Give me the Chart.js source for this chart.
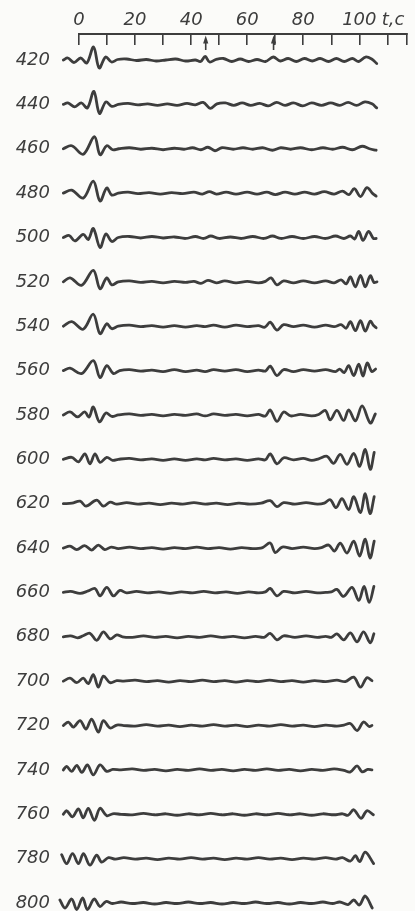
<!DOCTYPE html>
<html>
<head>
<meta charset="utf-8">
<script src="https://cdn.jsdelivr.net/npm/chart.js@4/dist/chart.umd.min.js"></script>
<style>
  html, body { margin: 0; padding: 0; background: #fbfbf9; overflow: hidden; }
  canvas { display: block; }
</style>
</head>
<body>
<canvas id="chart" width="415" height="911"></canvas>
<script>
// depth labels of the traces (left column)
const depths = [420, 440, 460, 480, 500, 520, 540, 560, 580, 600,
                620, 640, 660, 680, 700, 720, 740, 760, 780, 800];
// time axis, s
const xTicks = [0, 10, 20, 30, 40, 50, 60, 70, 80, 90, 100, 110, 112, 117];
const xLabelTicks = [0, 20, 40, 60, 80, 100];
const unitTick = 112;
const unitLabel = "t,с";
const arrowTimes = [45.2, 69.4];

// traces: [time s, deflection]
const tr420 = [[-5.6,0],[-4,2],[-1.8,-2.5],[0.6,2],[2.8,-3],[5.2,13],[7.2,-8],[9.5,3],[11.6,-2],[13.8,0.5],[17,1],[20.5,-0.5],[24,0.5],[27.5,-1],[31,0],[34.5,1],[38,-1],[41.5,0],[43.4,-1.5],[45,3.5],[46.6,-2],[48.8,0.5],[51.5,1.5],[54.5,-1.5],[57.5,1],[60.5,-1.5],[63.5,0.5],[66.5,-1.5],[69.3,3],[71.8,-1],[74.6,1.5],[77.5,-1.5],[80.4,1.5],[83.2,-1],[86,1.5],[89,-1.5],[91.8,1.5],[94.6,-1.5],[97.5,1.5],[99.8,-1.5],[102.2,3],[104.4,1],[106.2,-3.5]];
const tr440 = [[-5.6,0],[-4,1.5],[-1.5,-2.5],[0.8,1.5],[3,-3.5],[5.3,13],[7.3,-9],[9.6,2.5],[11.7,-2],[14,0],[17.5,1],[21,-0.5],[24.5,0.5],[28,-1],[31.5,0.5],[35,-1],[38.5,1],[41.5,-0.5],[44.3,2],[46.8,-4],[49.2,0.5],[52.2,1.5],[55.2,-1],[58.2,1.5],[61.2,-1],[64.5,1],[67.5,-1.5],[70.5,2],[73.5,-1],[76.5,1.5],[79.8,-1.5],[83,1.5],[86.5,-1],[89.8,1.5],[93,-1],[96,2],[99,-1],[102,2.5],[104.5,0.5],[106.2,-3.5]];
const tr460 = [[-5.6,0],[-2.6,3],[1.5,-5.5],[5.5,12],[7.5,-6],[9.9,3],[12,-1],[14.2,0],[18,1],[22,-0.5],[26,0.5],[30,-1],[34,0.5],[37.5,-0.5],[40.5,1],[43.5,-1],[46,1.5],[48.5,-2],[51,1],[55,-0.5],[58.5,1],[62,-0.5],[65.5,1],[69,-1.5],[72,1],[75.5,-0.5],[79,1],[83,-1],[87,1],[90.5,-0.5],[94,1.5],[97.5,-1],[101,2.5],[103.6,0],[106,-1.5]];
const tr480 = [[-5.6,0],[-2.6,3],[1.5,-5],[5.1,12],[7.5,-8],[9.9,5],[11.7,-2],[14,0],[17.5,1],[21,-0.5],[25,0.5],[29,-1],[33,0.5],[37,-0.5],[41,1],[44,-1],[46.5,1.5],[49,-1],[52.5,1],[56,-1],[60,1],[63.5,-1],[67,1],[70,-1.5],[73.5,1],[77,-1],[80.5,1],[84,-1],[87.5,1.5],[91,-1],[94,2],[96.3,-1.5],[98.2,4.5],[100.4,-3.5],[102.7,5.5],[104.8,-0.5],[106,-3]];
const tr500 = [[-5.6,0],[-3.5,2],[-1.5,-3.5],[1.5,3],[3.3,-2],[5.1,9],[7.5,-10],[9.6,3.5],[11.7,-4],[14,0],[18,1],[22,-0.5],[26,1],[30,-0.5],[34,0.5],[38,-1],[41.5,1],[44.5,-1],[47,1.5],[50,-1],[54,0.5],[58,-1],[62,1],[66,-1],[69,1.5],[72,-1],[76,1],[80,-1],[84,1],[88,-1],[91.5,1.5],[94.5,-1],[96.8,1.5],[98.3,-1.5],[99.8,6],[101.3,-3],[103.3,6],[105,-1],[106,-1]];
const tr520 = [[-5.6,0],[-3.2,4],[0.9,-3.5],[5.1,11.5],[7.5,-7],[9.9,4],[11.7,-3],[14,0],[18,1],[22,-0.5],[26,0.5],[30,-1],[34,0.5],[38,-0.5],[41,0.5],[43.5,-1.5],[46,1.5],[49,-1],[52,1],[56,-1],[60,0.5],[64,-1],[66.5,0.5],[68.5,4],[70.6,-3],[73,1],[76.5,-1],[80,1],[84,-1],[88,1],[91,-1],[93.5,2],[95.3,-2],[96.8,5],[98.6,-5],[100.4,6.5],[102.1,-5],[103.9,6],[105.2,-0.5],[106.3,0]];
const tr540 = [[-5.6,0],[-2.6,4.5],[1.5,-3],[5.1,12],[7.5,-7.5],[9.9,2.5],[11.7,-2.5],[14,0],[18,1],[22,-0.5],[26,0.5],[30,-1],[34,0.5],[38,-1],[42,0.5],[45,-0.5],[48,1],[52,-1],[56,1],[60,-0.5],[64,0.5],[66.3,-1],[68.2,4],[70.6,-4],[73,1.5],[76.5,-0.5],[80,1],[84,-1],[88,1],[91,-0.5],[93.5,1.5],[95.3,-2],[96.8,4.5],[98.6,-4.5],[100.4,5.5],[102.1,-5],[103.9,5],[105,1],[106,-1.5]];
const tr560 = [[-5.6,0],[-3.2,2.5],[0.9,-3],[5.1,10],[7.5,-7],[9.9,5],[12.3,-3],[14.5,0],[18,1],[22,-0.5],[26,0.5],[30,-1],[34,1],[38,-1],[42,0.5],[45,-1],[48,1],[52,-0.5],[56,1],[60,-1],[64,0.5],[66.5,-0.5],[68.2,4.5],[70.6,-5],[73,1],[76.5,-1],[80,1],[84,-0.5],[88,1],[91.5,-1],[93,1.5],[94.6,-2],[96.2,5],[98,-5],[99.8,6.5],[101.3,-5.5],[102.8,7.5],[104.5,-1],[105.8,1.5]];
const tr580 = [[-5.6,0],[-3.2,3],[-0.5,-2],[2,3],[3.6,-2],[5.1,8],[7.3,-7],[9.6,2],[11.7,-1.5],[14,0],[18,1],[22,-0.5],[26,0.5],[30,-1],[34,0.5],[38,-0.5],[42,1],[45,-1],[48,1],[52,-0.5],[56,0.5],[60,-1],[64,0.5],[66.5,-1],[68.2,5],[70.6,-6.5],[73,3],[75.5,-1],[79,0.5],[83,-1],[85.5,0.5],[87.9,4.5],[89.6,-5],[92,4.5],[94.4,-5.5],[96.2,5],[98.6,-6],[101,9],[103.9,-8],[105.7,1]];
const tr600 = [[-5.6,0],[-2.6,2],[-0.2,-2.5],[2.1,5.5],[3.9,-4.5],[5.7,5.5],[7.5,-3],[9.9,2],[12,-1],[14,0],[18,1],[22,-0.5],[26,0.5],[30,-1],[34,0.5],[38,-1],[42,0.5],[45,-0.5],[48,1],[52,-0.5],[56,0.5],[60,-1],[64,0.5],[66.5,-0.5],[68.2,5.5],[70.6,-4.5],[73,1.5],[76.5,-0.5],[80,1],[83,-1],[85.5,0.5],[88.5,3],[90.8,-4],[93.2,5],[95.6,-5],[98,6],[100.1,-7],[102.1,10],[103.9,-10],[105.3,7]];
const tr620 = [[-5.6,0],[-2.5,0.5],[0.4,2.5],[2.5,-2.5],[6.3,3.5],[8.7,-2.5],[11.1,1.5],[13.5,-0.5],[17,1],[21,-0.5],[25,0.5],[29,-1],[33,0.5],[37,-0.5],[41,1],[45,-0.5],[49,0.5],[53,-1],[57,0.5],[61,-0.5],[65,0.5],[68.2,3],[70.6,-3],[73,1],[77,-0.5],[81,1],[85,-0.5],[87.5,0.5],[89.6,4],[91.7,-4],[93.8,5],[96.2,-6],[98,7],[100.4,-9],[102.1,10],[103.8,-10],[105.3,7]];
const tr640 = [[-5.6,0],[-3.2,2],[-0.8,-1.5],[2,2.5],[4.5,-2],[6.9,3],[9.2,-1.5],[11.5,1],[14,-0.5],[18,1],[22,-0.5],[26,0.5],[30,-1],[34,0.5],[38,-0.5],[42,1],[46,-0.5],[50,0.5],[54,-1],[58,0.5],[62,-0.5],[65.5,0.5],[68.2,5],[70,-4.5],[72.5,1],[76,-0.5],[80,1],[84,-0.5],[86.5,0.5],[89.1,3],[91.1,-3],[93.2,5],[95.6,-5],[98,7],[100.1,-8],[102.1,9],[103.8,-10],[105.3,7]];
const tr660 = [[-5.6,0],[-3,1],[0.4,-1],[3.3,1.5],[5.7,4],[7.5,-3.5],[9.9,5],[12.3,-3.5],[14.6,2],[17,-0.5],[20.5,1],[24.5,-0.5],[28.5,0.5],[32.5,-1],[36.5,0.5],[40.5,-0.5],[44.5,1],[48.5,-0.5],[52.5,0.5],[56.5,-1],[60.5,0.5],[64,-0.5],[66.5,0.5],[68.2,4],[70.6,-3.5],[73,1],[77,-0.5],[81,1],[85,-0.5],[88,0],[90,0.5],[92,3],[94.4,-4],[97.4,5],[99.8,-8],[101.7,6],[103.5,-10],[105.2,6]];
const tr680 = [[-5.6,0],[-3,1],[-0.5,-1],[1.5,1],[3.9,3.5],[6.3,-3.5],[8.7,5],[11.1,-2],[13.5,2],[15.5,0],[19,-0.5],[23,1],[27,-0.5],[31,0.5],[35,-1],[39,0.5],[43,-0.5],[47,1],[51,-0.5],[55,0.5],[59,-1],[63,0.5],[66,-0.5],[68.2,3.5],[70.6,-3],[73,1],[77,-0.5],[81,1],[85,-0.5],[88,0.5],[90,-0.5],[92,3],[94.4,-3],[96.8,4],[99.2,-5],[101.5,5],[103.9,-6],[105.2,3]];
const tr700 = [[-5.6,0],[-3.2,3],[-0.8,-1.5],[1.5,3],[3.3,-2.5],[5.1,6.5],[6.9,-6],[8.7,5],[11.1,-1.5],[13.5,0.5],[16,0],[20,1],[24,-0.5],[28,0.5],[32,-1],[36,0.5],[40,-0.5],[44,1],[48,-0.5],[52,0.5],[56,-1],[60,0.5],[64,-0.5],[68,1],[72,-0.5],[76,0.5],[80,-1],[84,0.5],[88,-0.5],[92,1],[95,-0.5],[98,4],[100.4,-6],[102.7,3.5],[104.5,0.5]];
const tr720 = [[-5.6,0],[-3.8,3.5],[-2,-1.5],[0.4,5],[2.5,-3.5],[4.5,6.5],[6.9,-6.5],[8.7,5],[11.1,-2.5],[13.5,0.5],[16,0],[20,-0.5],[24,1],[28,-0.5],[32,0.5],[36,-1],[40,0.5],[44,-0.5],[48,1],[52,-0.5],[56,0.5],[60,-1],[64,0.5],[68,-0.5],[72,1],[76,-0.5],[80,0.5],[84,-1],[88,0.5],[92,-0.5],[94.5,0.5],[96.8,2],[99.2,-5],[101.5,3.5],[103.5,-1],[104.5,0]];
const tr740 = [[-5.6,0],[-4.4,3.5],[-2.6,-1.5],[-0.8,4.5],[1,-2.5],[3,5],[5.1,-5],[7.5,5],[9.9,-1.5],[12,0.5],[15,0],[19,1],[23,-0.5],[27,0.5],[31,-1],[35,0.5],[39,-0.5],[43,1],[47,-0.5],[51,0.5],[55,-1],[59,0.5],[63,-0.5],[67,1],[71,-0.5],[75,0.5],[79,-1],[83,0.5],[87,-0.5],[91,1],[94.5,-0.5],[96.8,-2],[99.2,4],[101,-2],[103,0.5],[104.5,0]];
const tr760 = [[-5.6,0],[-4.4,3.5],[-2.3,-2.5],[-0.2,5.5],[1.5,-3.5],[3.3,6],[5.5,-6],[7.5,6],[9.9,-1.5],[12,0.5],[15,0],[19,-0.5],[23,1],[27,-0.5],[31,0.5],[35,-1],[39,0.5],[43,-0.5],[47,1],[51,-0.5],[55,0.5],[59,-1],[63,0.5],[67,-0.5],[71,1],[75,-0.5],[79,0.5],[83,-1],[87,0.5],[91,-0.5],[94,0.5],[96,-1],[98,4.5],[100.6,-4],[102.7,3.5],[105,-0.5]];
const tr780 = [[-6.2,4],[-4.4,-5],[-2.3,5],[-0.2,-5],[1.6,5],[3.9,-6.5],[6.3,3.5],[8.1,-3.5],[10.5,1],[13,-0.5],[16,1],[20,-0.5],[24,0.5],[28,-1],[32,0.5],[36,-0.5],[40,1],[44,-0.5],[48,0.5],[52,-1],[56,0.5],[60,-0.5],[64,1],[68,-0.5],[72,0.5],[76,-1],[80,0.5],[84,-0.5],[88,1],[91.5,-0.5],[94,1],[96.8,-2.5],[98.6,3],[100.1,-3],[102.1,6.5],[105.1,-5]];
const tr800 = [[-6.8,3],[-5,-5],[-2.6,4],[-0.8,-6.5],[1.3,5],[3,-6.5],[5.4,4],[7.5,-3.5],[9.6,1.5],[12,-0.5],[15,1],[19,-0.5],[23,0.5],[27,-1],[31,0.5],[35,-0.5],[39,1],[43,-0.5],[47,0.5],[51,-1],[55,0.5],[59,-0.5],[63,1],[67,-0.5],[71,0.5],[75,-1],[79,0.5],[83,-0.5],[87,1],[90.5,-0.5],[93,1],[96,-1.5],[98,3],[100,-2],[102.1,7],[104.6,-5]];

const traces = [tr420, tr440, tr460, tr480, tr500, tr520, tr540, tr560, tr580, tr600,
                tr620, tr640, tr660, tr680, tr700, tr720, tr740, tr760, tr780, tr800];

const gain = 0.45; // depth units per unit of deflection
const ink = "#3d3d3d";
const labelFont = { family: "DejaVu Sans", size: 18, style: "italic" };

const datasets = depths.map((d, i) => ({
  label: String(d),
  data: traces[i].map(p => ({ x: p[0], y: d - gain * p[1] })),
  borderColor: ink,
  borderWidth: 2.8,
  borderCapStyle: "round",
  borderJoinStyle: "round",
  tension: 0.35,
  pointRadius: 0,
  fill: false,
  clip: false
}));

// little arrows under the time axis
const arrowPlugin = {
  id: "arrows",
  afterDraw(chart) {
    const { ctx, chartArea, scales } = chart;
    ctx.save();
    ctx.strokeStyle = ink;
    ctx.fillStyle = ink;
    ctx.lineWidth = 1.6;
    arrowTimes.forEach(t => {
      const px = scales.x.getPixelForValue(t);
      const top = chartArea.top;
      ctx.beginPath();
      ctx.moveTo(px, top + 8);
      ctx.lineTo(px, top + 16);
      ctx.stroke();
      ctx.beginPath();
      ctx.moveTo(px, top + 1.5);
      ctx.lineTo(px - 2.6, top + 9.5);
      ctx.lineTo(px + 2.6, top + 9.5);
      ctx.closePath();
      ctx.fill();
    });
    ctx.restore();
  }
};

new Chart(document.getElementById("chart"), {
  type: "line",
  data: { datasets },
  options: {
    responsive: false,
    devicePixelRatio: 1,
    animation: false,
    layout: { autoPadding: false, padding: { top: 0, right: 8, bottom: 0, left: 0 } },
    plugins: { legend: { display: false }, tooltip: { enabled: false } },
    scales: {
      x: {
        type: "linear",
        position: "top",
        afterFit: s => { s.height = 34; s.paddingLeft = 0; s.paddingRight = 0; },
        afterBuildTicks: s => {
          s.min = 0;
          s.max = 117;
          s.ticks = xTicks.map(v => ({ value: v }));
        },
        border: { display: true, color: ink, width: 2 },
        grid: {
          drawOnChartArea: false,
          tickLength: -11,
          lineWidth: 1.6,
          color: c => (c.tick && c.tick.value === unitTick) ? "rgba(0,0,0,0)" : ink
        },
        ticks: {
          autoSkip: false,
          maxRotation: 0,
          padding: 14,
          color: ink,
          font: labelFont,
          callback: v => v === unitTick ? unitLabel : (xLabelTicks.includes(v) ? String(v) : "")
        }
      },
      y: {
        type: "linear",
        reverse: true,
        min: 408.28,
        max: 803.6,
        afterFit: s => { s.width = 79; s.paddingTop = 0; s.paddingBottom = 0; },
        afterBuildTicks: s => { s.ticks = depths.map(v => ({ value: v })); },
        border: { display: false },
        grid: { display: false, drawTicks: false },
        ticks: { padding: 29, color: ink, font: labelFont }
      }
    }
  },
  plugins: [arrowPlugin]
});
</script>
</body>
</html>
